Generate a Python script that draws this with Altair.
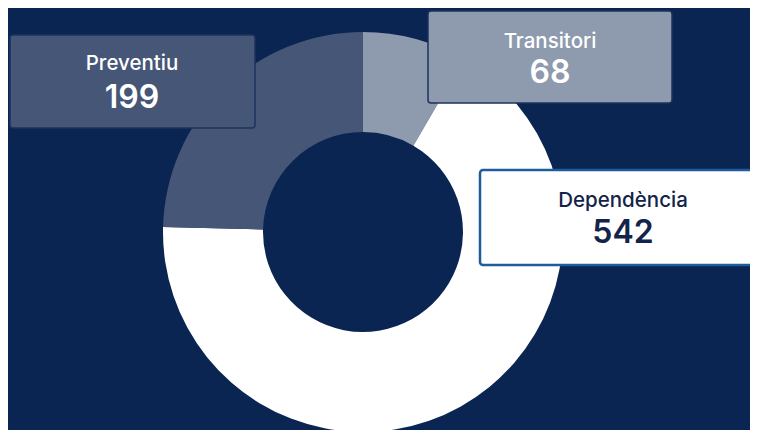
import altair as alt
import pandas as pd

# ---- data ----
categories = ["Transitori", "Dependència", "Preventiu"]
values = [68, 542, 199]
slice_colors = ["#8e9aae", "#ffffff", "#465677"]

# ---- layout (pixels, chart coordinates) ----
BG = "#0a2552"
W, H = 742, 422
CX, CY = 355, 224
R_IN, R_OUT = 100, 200

box_x = [420, 472, 2]
box_x2 = [664, 780, 247]
box_y = [3, 162, 27]
box_y2 = [95, 257, 120]
box_fill = ["#8e9aae", "#ffffff", "#465677"]
box_stroke = ["#1d335e", "#1f5c9c", "#1d335e"]
box_stroke_w = [1.5, 2.5, 1.5]
text_color = ["#ffffff", "#14234a", "#ffffff"]
label_x = [542, 615, 124]
label_y = [40, 199, 62]
num_y = [75, 235, 100]

df = pd.DataFrame({
    "category": categories,
    "value": values,
    "order": list(range(len(categories))),
    "bx": box_x, "bx2": box_x2, "by": box_y, "by2": box_y2,
    "fill": box_fill, "stroke": box_stroke, "sw": box_stroke_w,
    "tc": text_color, "lx": label_x, "ly": label_y, "ny": num_y,
})
df["value_str"] = df["value"].astype(str)

base = alt.Chart(df)

arc = base.mark_arc(innerRadius=R_IN, outerRadius=R_OUT, stroke=None).encode(
    theta=alt.Theta("value:Q", stack=True),
    order=alt.Order("order:Q"),
    color=alt.Color("category:N", scale=alt.Scale(domain=categories, range=slice_colors), legend=None),
    x=alt.value(CX),
    y=alt.value(CY),
)

boxes = base.mark_rect(cornerRadius=3).encode(
    x=alt.X("bx:Q", scale=None, axis=None),
    x2="bx2:Q",
    y=alt.Y("by:Q", scale=None, axis=None),
    y2="by2:Q",
    fill=alt.Fill("fill:N", scale=None),
    stroke=alt.Stroke("stroke:N", scale=None),
    strokeWidth=alt.StrokeWidth("sw:Q", scale=None),
)

labels = base.mark_text(font="Inter", fontSize=20.5, fontWeight=500, baseline="alphabetic", align="center").encode(
    x=alt.X("lx:Q", scale=None, axis=None),
    y=alt.Y("ly:Q", scale=None, axis=None),
    text="category:N",
    color=alt.Color("tc:N", scale=None),
)

nums = base.mark_text(font="Inter", fontSize=32, fontWeight=600, baseline="alphabetic", align="center").encode(
    x=alt.X("lx:Q", scale=None, axis=None),
    y=alt.Y("ny:Q", scale=None, axis=None),
    text="value_str:N",
    color=alt.Color("tc:N", scale=None),
)

chart = alt.layer(arc, boxes, labels, nums).properties(
    width=W, height=H,
    background=BG,
    padding=0,
    autosize=alt.AutoSizeParams(type="none"),
).configure_view(stroke=None)

chart.save("out.html", embed_options={"renderer": "svg", "actions": False})
